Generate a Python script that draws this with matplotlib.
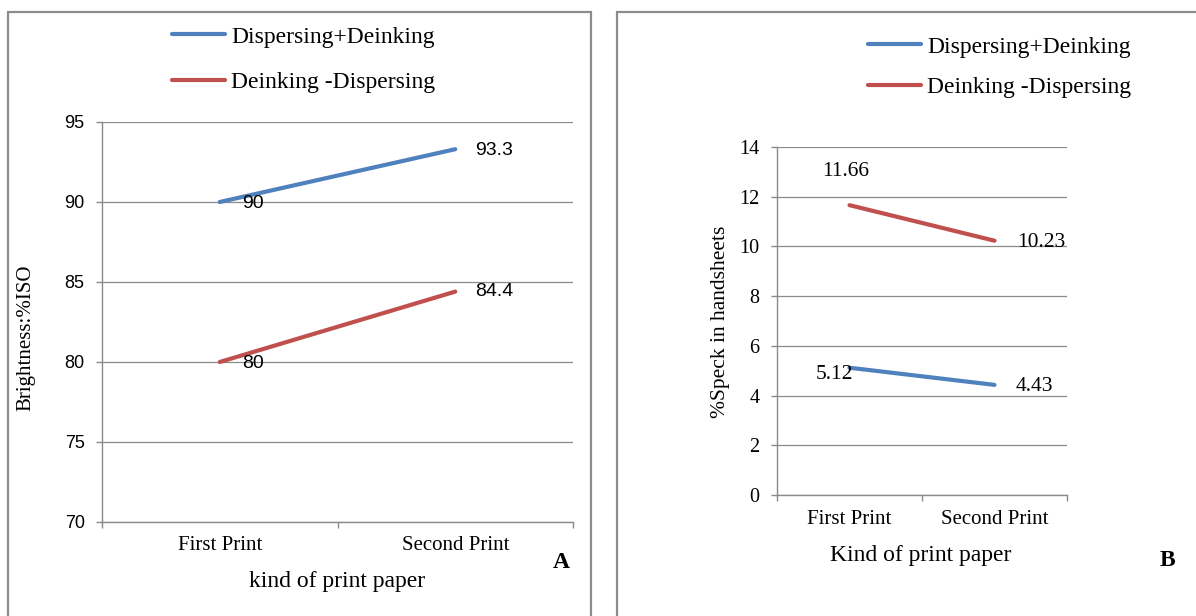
import matplotlib
matplotlib.use("Agg")
import matplotlib.pyplot as plt
from matplotlib.patches import Rectangle

SERIF = "Liberation Serif"
SANS = "Liberation Sans"

categories = ["First Print", "Second Print"]
series_names = ["Dispersing+Deinking", "Deinking -Dispersing"]
brightness = {
    "Dispersing+Deinking": [90, 93.3],
    "Deinking -Dispersing": [80, 84.4],
}
speck = {
    "Dispersing+Deinking": [5.12, 4.43],
    "Deinking -Dispersing": [11.66, 10.23],
}
brightness_ticks = [70, 75, 80, 85, 90, 95]
speck_ticks = [0, 2, 4, 6, 8, 10, 12, 14]

COLORS = {"Dispersing+Deinking": "#4F81BD", "Deinking -Dispersing": "#C0504D"}
GRID = "#8a8a8a"

W, H = 1196, 616
fig = plt.figure(figsize=(W / 100, H / 100), dpi=100)


def fx(px):
    return px / W


def fy(py):
    return 1 - py / H


# panel frames
for x0, x1 in [(8, 591), (617, 1260)]:
    fig.add_artist(Rectangle((fx(x0), -0.2), fx(x1 - x0), fy(12) + 0.2,
                             transform=fig.transFigure, fill=False,
                             edgecolor="#8c8c8c", lw=1.6))

ax_a = fig.add_axes([fx(102), fy(522), fx(573 - 102), (522 - 122) / H])
ax_b = fig.add_axes([fx(777), fy(495), fx(1067 - 777), (495 - 147) / H])


def style_axes(ax, yticks, tick_font, tick_size, cat_pad):
    x = range(len(categories))
    ax.set_xlim(-0.5, len(categories) - 0.5)
    ax.set_ylim(yticks[0], yticks[-1])
    ax.set_yticks(yticks)
    ax.set_yticklabels([str(t) for t in yticks], family=tick_font, fontsize=tick_size)
    ax.set_xticks([i - 0.5 for i in range(len(categories) + 1)])
    ax.set_xticklabels([])
    ax.set_xticks(list(x), minor=True)
    ax.set_xticklabels(categories, minor=True, family=SERIF, fontsize=15)
    ax.tick_params(axis="x", which="minor", length=0, pad=cat_pad)
    ax.tick_params(axis="x", which="major", length=4.5, color=GRID, width=1)
    ax.tick_params(axis="y", length=4.5, color=GRID, width=1, pad=8)
    ax.yaxis.grid(True, color=GRID, lw=0.9)
    ax.set_axisbelow(True)
    for s in ["top", "right"]:
        ax.spines[s].set_visible(False)
    for s in ["left", "bottom"]:
        ax.spines[s].set_color(GRID)
        ax.spines[s].set_linewidth(1)


style_axes(ax_a, brightness_ticks, SANS, 13, 10)
style_axes(ax_b, speck_ticks, SERIF, 14.5, 11)

for name in series_names:
    ax_a.plot(range(len(categories)), brightness[name], color=COLORS[name],
              lw=3, solid_capstyle="round", label=name)
    ax_b.plot(range(len(categories)), speck[name], color=COLORS[name],
              lw=3, solid_capstyle="round", label=name)

# value labels (offsets in pixels from each point)
label_offsets_a = {
    "Dispersing+Deinking": [(22, -1, "left"), (20, -1, "left")],
    "Deinking -Dispersing": [(22, -1, "left"), (20, 0, "left")],
}
label_offsets_b = {
    "Dispersing+Deinking": [(-15, -7, "center"), (21, -2, "left")],
    "Deinking -Dispersing": [(-4, 34, "center"), (23, -2, "left")],
}
for ax, data, offs, font, size in [(ax_a, brightness, label_offsets_a, SANS, 14),
                                   (ax_b, speck, label_offsets_b, SERIF, 15.5)]:
    for name in series_names:
        for i, v in enumerate(data[name]):
            dx, dy, ha = offs[name][i]
            ax.annotate(f"{v:g}", xy=(i, v), xytext=(dx, dy), textcoords="offset pixels",
                        ha=ha, va="center", family=font, fontsize=size, color="black")

# legends above each plot
for ax, (lx, ly), spacing in [(ax_a, (172, 26), 1.02), (ax_b, (868, 36), 0.8)]:
    ax.legend(loc="upper left", bbox_to_anchor=(fx(lx), fy(ly)),
              bbox_transform=fig.transFigure, frameon=False, borderpad=0,
              borderaxespad=0, handlelength=2.25, handletextpad=0.25,
              labelspacing=spacing, prop={"family": SERIF, "size": 17})

# axis titles and panel letters
fig.text(fx(337), fy(582), "kind of print paper", ha="center", va="center",
         family=SERIF, fontsize=17)
fig.text(fx(921), fy(556), "Kind of print paper", ha="center", va="center",
         family=SERIF, fontsize=17)
fig.text(fx(26), fy(338), "Brightness:%ISO", rotation=90, ha="center", va="center",
         family=SERIF, fontsize=15)
fig.text(fx(720), fy(322), "%Speck in handsheets", rotation=90, ha="center", va="center",
         family=SERIF, fontsize=15.5)
fig.text(fx(561), fy(562), "A", ha="center", va="center", family=SERIF,
         fontsize=17, fontweight="bold")
fig.text(fx(1167), fy(560), "B", ha="center", va="center", family=SERIF,
         fontsize=17, fontweight="bold")

fig.savefig("out.png", dpi=100)
